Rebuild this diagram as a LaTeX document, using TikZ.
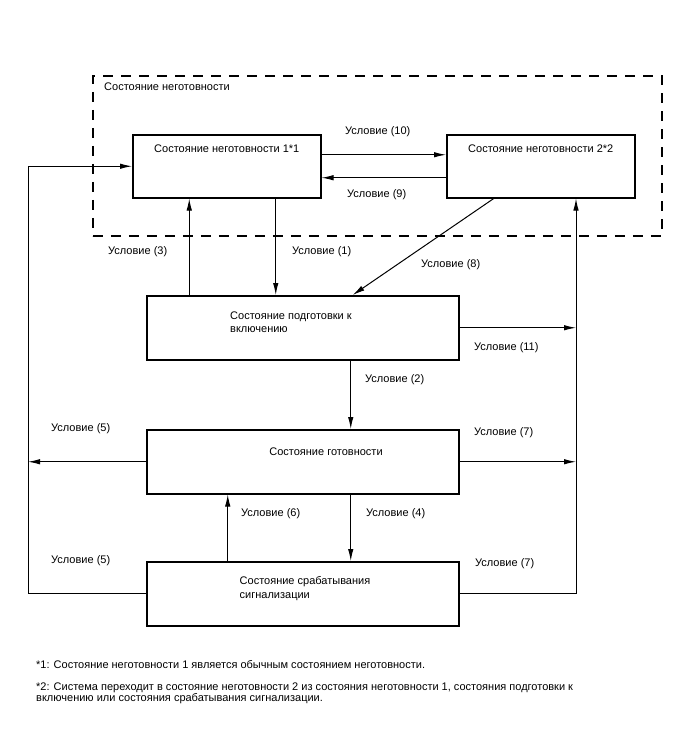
\documentclass[tikz,border=0pt]{standalone}
\usepackage{fontspec}
\setmainfont{Liberation Sans}
\usetikzlibrary{arrows.meta,positioning}

\begin{document}
\begin{tikzpicture}[x=1pt,y=-1pt,
  st/.style={draw,line width=1.5pt,inner sep=0pt,anchor=north west},
  narrowst/.style={st,minimum width=188pt,minimum height=63pt},
  widest/.style={st,minimum width=312pt,minimum height=64pt},
  zone/.style={draw,line width=1.6pt,dash pattern=on 10pt off 8pt,inner sep=0pt,
               anchor=north west,minimum width=569pt,minimum height=160pt},
  arr/.style={-{Latex[length=12pt,width=5.5pt]},line width=1pt},
  txt/.style={font=\fontsize{11}{13}\selectfont,inner sep=0pt},
  cond/.style={txt,anchor=west}
]
\useasboundingbox (0,0) rectangle (688,755);

\node[zone] (zone) at (92,75) {};
\node[cond] (zonelab) at (104,87) {Состояние неготовности};

\node[narrowst] (nr1) at (132,134) {};
\node[narrowst] (nr2) at (446,134) {};
\node[widest] (prep) at (146,295) {};
\node[widest] (ready) at (146,429) {};
\node[widest] (alarm) at (146,561) {};

\node[txt] (t1) at ([yshift=-15pt]nr1.north) {Состояние неготовности 1*1};
\node[txt] (t2) at ([yshift=-15pt]nr2.north) {Состояние неготовности 2*2};
\node[cond,align=left] (t3) at (230,322.5) {Состояние подготовки к\\включению};
\node[txt] (t4) at (326,452) {Состояние готовности};
\node[cond,align=left,font=\fontsize{11}{14}\selectfont] (t5) at (239.5,589) {Состояние срабатывания\\сигнализации};

\coordinate (lf) at (28,0);
\coordinate (rt) at (576,0);

\draw[arr] ([yshift=11.5pt]nr1.east) -- ([yshift=11.5pt]nr2.west);
\draw[arr] ([yshift=-11.5pt]nr2.west) -- ([yshift=-11.5pt]nr1.east);
\draw[arr] ([xshift=49pt]nr1.south) -- ([xshift=49pt]nr1.south |- prep.north);
\draw[arr] ([xshift=-113.5pt]prep.north) -- ([xshift=-113.5pt]prep.north |- nr1.south);
\draw[arr] ([xshift=-47pt]nr2.south) -- ([xshift=50pt]prep.north);
\draw[arr] (prep.east) -- (prep.east -| rt);
\draw[arr] ([xshift=48pt]prep.south) -- ([xshift=48pt]prep.south |- ready.north);
\draw[arr] (ready.west) -- (ready.west -| lf);
\draw[arr] (ready.east) -- (ready.east -| rt);
\draw[arr] ([xshift=48pt]ready.south) -- ([xshift=48pt]ready.south |- alarm.north);
\draw[arr] ([xshift=-75pt]alarm.north) -- ([xshift=-75pt]alarm.north |- ready.south);
\draw[arr] (alarm.west) -| (lf |- nr1.west) -- (nr1.west);
\draw[arr] (alarm.east) -| (rt |- nr2.south);

\node[cond] (c10) at (345,132) {Условие (10)};
\node[cond] (c9) at (347,195) {Условие (9)};
\node[cond] (c3) at (108,252) {Условие (3)};
\node[cond] (c1) at (292,252) {Условие (1)};
\node[cond] (c8) at (421,265) {Условие (8)};
\node[cond] (c11) at (474,348) {Условие (11)};
\node[cond] (c2) at (365,380) {Условие (2)};
\node[cond] (c5a) at (51,429) {Условие (5)};
\node[cond] (c7a) at (474,433) {Условие (7)};
\node[cond] (c6) at (241,514) {Условие (6)};
\node[cond] (c4) at (366,514) {Условие (4)};
\node[cond] (c5b) at (51,561) {Условие (5)};
\node[cond] (c7b) at (475,564) {Условие (7)};

\node[cond] (fn1) at (36,665) {*1: Состояние неготовности 1 является обычным состоянием неготовности.};
\node[cond,align=left,font=\fontsize{11}{11.5}\selectfont] (fn2) at (36,693.5) {*2: Система переходит в состояние неготовности 2 из состояния неготовности 1, состояния подготовки к\\включению или состояния срабатывания сигнализации.};
\end{tikzpicture}
\end{document}
